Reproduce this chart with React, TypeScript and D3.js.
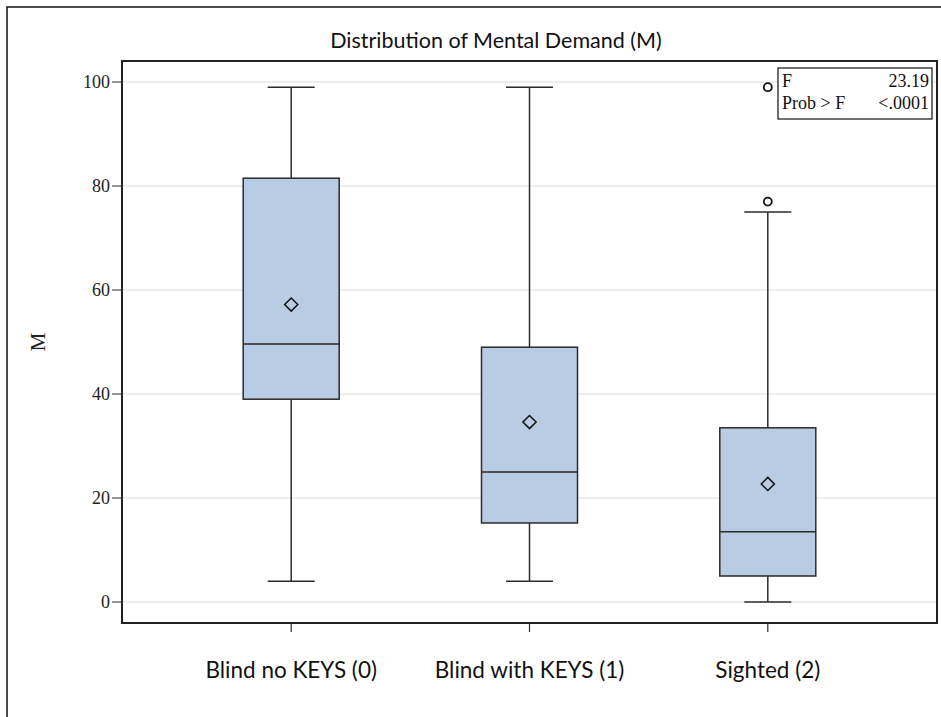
import React from "react";
import * as d3 from "d3";

// Group labels along the x axis
const groups = ["Blind no KEYS (0)", "Blind with KEYS (1)", "Sighted (2)"];
// Five-number summaries and means per group
const whiskerLow = [4, 4, 0];
const q1 = [39, 15.2, 5];
const median = [49.6, 25, 13.5];
const q3 = [81.5, 49, 33.5];
const whiskerHigh = [99, 99, 75];
const means = [57.2, 34.6, 22.7];
// Outlying observations: [group index, value]
const outliers: [number, number][] = [
  [2, 77],
  [2, 99],
];
const yTicks = [0, 20, 40, 60, 80, 100];
// ANOVA inset
const statLabels = ["F", "Prob > F"];
const statValues = ["23.19", "<.0001"];

const W = 941;
const H = 717;
const plot = { left: 122, right: 937, top: 61, bottom: 623 };

export default function App() {
  const x = d3
    .scalePoint<string>()
    .domain(groups)
    .range([plot.left, plot.right])
    .padding(0.71);
  const y = d3.scaleLinear().domain([0, 100]).range([602, 82]);
  const boxW = 96;
  const capW = 47;
  const serif = "'Liberation Serif', 'DejaVu Serif', serif";
  const sans = "Lato, 'Open Sans', sans-serif";
  const stroke = "#2b2b2b";

  const diamond = d3.symbol().type(d3.symbolDiamond2).size(110)();

  return (
    <svg
      width={W}
      height={H}
      style={{ position: "absolute", left: 0, top: 0, background: "#fff" }}
    >
      {/* outer frame */}
      <rect x={7} y={7} width={W + 20} height={H + 20} fill="none" stroke="#111" strokeWidth={1.5} />

      <text x={496} y={48} textAnchor="middle" fontFamily={sans} fontSize={21.5} fill="#111">
        Distribution of Mental Demand (M)
      </text>

      {/* grid */}
      {yTicks.map((t) => (
        <line key={t} x1={plot.left} x2={plot.right} y1={y(t)} y2={y(t)} stroke="#e9e9e9" strokeWidth={1.5} />
      ))}

      {/* y axis ticks */}
      {yTicks.map((t) => (
        <g key={"yt" + t}>
          <line x1={plot.left - 10} x2={plot.left} y1={y(t)} y2={y(t)} stroke={stroke} strokeWidth={1} />
          <text x={plot.left - 12} y={y(t) + 6} textAnchor="end" fontFamily={serif} fontSize={18} fill="#222">
            {t}
          </text>
        </g>
      ))}
      <text
        transform={`translate(45, ${(plot.top + plot.bottom) / 2}) rotate(-90)`}
        textAnchor="middle"
        fontFamily={serif}
        fontSize={21}
        fill="#222"
      >
        M
      </text>

      {/* boxes */}
      {groups.map((g, i) => {
        const cx = x(g)!;
        return (
          <g key={g}>
            <line x1={cx} x2={cx} y1={y(whiskerHigh[i])} y2={y(q3[i])} stroke={stroke} strokeWidth={1.5} />
            <line x1={cx} x2={cx} y1={y(q1[i])} y2={y(whiskerLow[i])} stroke={stroke} strokeWidth={1.5} />
            <line x1={cx - capW / 2} x2={cx + capW / 2} y1={y(whiskerHigh[i])} y2={y(whiskerHigh[i])} stroke={stroke} strokeWidth={1.5} />
            <line x1={cx - capW / 2} x2={cx + capW / 2} y1={y(whiskerLow[i])} y2={y(whiskerLow[i])} stroke={stroke} strokeWidth={1.5} />
            <rect
              x={cx - boxW / 2}
              y={y(q3[i])}
              width={boxW}
              height={y(q1[i]) - y(q3[i])}
              fill="#b8cce4"
              stroke={stroke}
              strokeWidth={1.5}
            />
            <line x1={cx - boxW / 2} x2={cx + boxW / 2} y1={y(median[i])} y2={y(median[i])} stroke={stroke} strokeWidth={1.5} />
            <path d={diamond!} transform={`translate(${cx},${y(means[i])})`} fill="none" stroke="#111" strokeWidth={1.5} />
          </g>
        );
      })}

      {/* outliers */}
      {outliers.map(([gi, v], k) => (
        <circle key={k} cx={x(groups[gi])!} cy={y(v)} r={4} fill="none" stroke="#111" strokeWidth={1.8} />
      ))}

      {/* stats inset */}
      <rect x={778} y={68} width={154} height={51} fill="#fff" stroke="#111" strokeWidth={1.2} />
      {statLabels.map((s, i) => (
        <g key={s}>
          <text x={782} y={87 + i * 22} fontFamily={serif} fontSize={18} fill="#111">
            {s}
          </text>
          <text x={929} y={87 + i * 22} textAnchor="end" fontFamily={serif} fontSize={18} fill="#111">
            {statValues[i]}
          </text>
        </g>
      ))}

      {/* plot frame */}
      <rect
        x={plot.left}
        y={plot.top}
        width={plot.right - plot.left}
        height={plot.bottom - plot.top}
        fill="none"
        stroke="#222"
        strokeWidth={2}
      />

      {/* x axis ticks and labels */}
      {groups.map((g) => (
        <g key={"xt" + g}>
          <line x1={x(g)!} x2={x(g)!} y1={plot.bottom} y2={plot.bottom + 9} stroke={stroke} strokeWidth={1.2} />
          <text x={x(g)!} y={678} textAnchor="middle" fontFamily={sans} fontSize={22.5} fill="#111">
            {g}
          </text>
        </g>
      ))}
    </svg>
  );
}
